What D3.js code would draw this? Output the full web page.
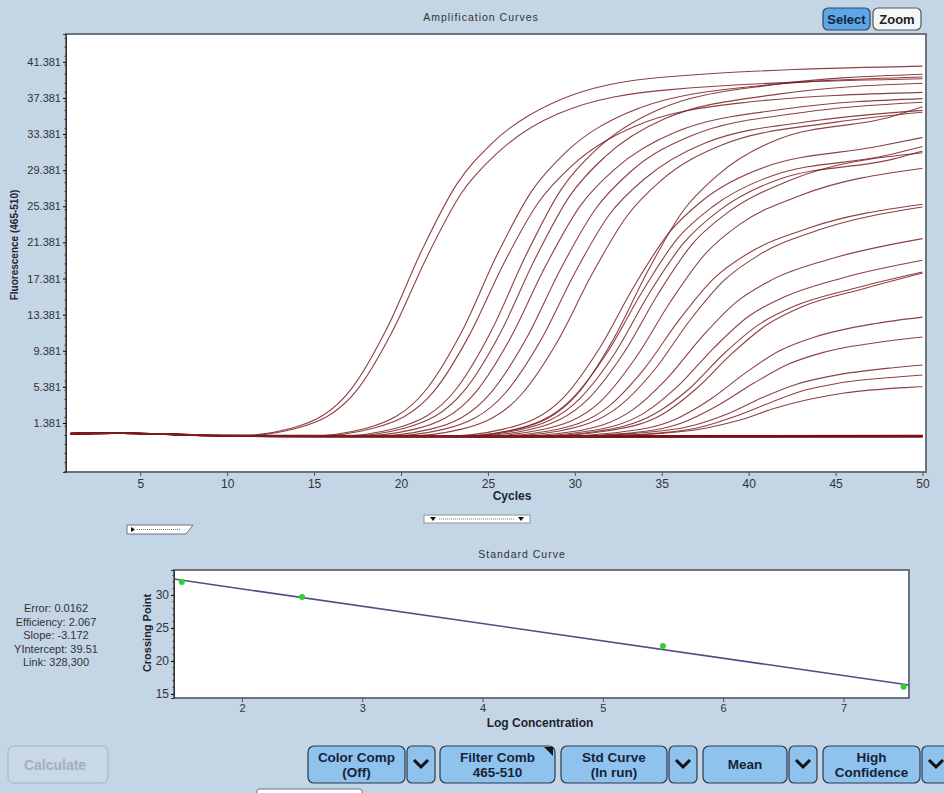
<!DOCTYPE html>
<html>
<head>
<meta charset="utf-8">
<script src="https://cdn.jsdelivr.net/npm/d3@7"></script>
<style>
body { margin: 0; background: #c4d5e6; }
svg { display: block; font-family: "Liberation Sans", Arial, sans-serif; }
</style>
</head>
<body>
<svg width="944" height="793"></svg>
<script>
// ---- data ----
const cycleTicks = [5, 10, 15, 20, 25, 30, 35, 40, 45, 50]
const fluorTicks = [1.381, 5.381, 9.381, 13.381, 17.381, 21.381, 25.381, 29.381, 33.381, 37.381, 41.381]

// shared start of every trace (cycles 1-9)
const earlyBaseline = [[1, 0.2], [4, 0.25], [9, 0.0]]

// amplified traces, [cycle, fluorescence]
const ampCurves = [
    [[10.2, -0.1], [13.7, 0.8], [17.2, 5.3], [19.2, 11.9], [21.2, 20.5], [23.2, 27.8], [25.2, 32.3], [28.7, 36.8], [35.2, 39.7], [50, 40.9]],
    [[10.5, -0.1], [14, 0.8], [17.5, 5.1], [19.5, 11.5], [21.5, 19.8], [23.5, 26.9], [25.5, 31.2], [29, 35.6], [35.5, 38.3], [50, 39.5]],
    [[14.5, -0.1], [18, 0.8], [21.5, 5.2], [23.5, 11.5], [25.5, 19.9], [27.5, 27.0], [29.5, 31.4], [33, 35.7], [39.5, 38.5], [50, 39.7]],
    [[14.9, -0.1], [18.4, 0.8], [21.9, 4.9], [23.9, 11.0], [25.9, 19.0], [27.9, 25.8], [29.9, 30.0], [33.4, 34.2], [39.9, 36.9], [50, 38.0]],
    [[16.2, -0.1], [19.7, 0.8], [23.2, 5.2], [25.2, 11.6], [27.2, 20.0], [29.2, 27.2], [31.2, 31.6], [34.7, 36.0], [41.2, 38.8], [50, 40.0]],
    [[16.7, -0.1], [20.2, 0.8], [23.7, 5.1], [25.7, 11.3], [27.7, 19.5], [29.7, 26.5], [31.7, 30.8], [35.2, 35.1], [41.7, 37.8], [50, 39.0]],
    [[17.3, -0.1], [20.8, 0.7], [24.3, 4.8], [26.3, 10.8], [28.3, 18.7], [30.3, 25.4], [32.3, 29.5], [35.8, 33.6], [42.3, 36.2], [50, 37.3]],
    [[18.2, -0.1], [21.7, 0.7], [25.2, 4.8], [27.2, 10.7], [29.2, 18.5], [31.2, 25.1], [33.2, 29.2], [36.7, 33.2], [43.2, 35.8], [50, 36.9]],
    [[19, -0.1], [22.5, 0.7], [26, 4.7], [28, 10.4], [30, 18.0], [32, 24.5], [34, 28.4], [37.5, 32.4], [44, 34.9], [50, 36.0]],
    [[20, -0.1], [23.5, 0.7], [27, 4.7], [29, 10.4], [31, 17.9], [33, 24.3], [35, 28.3], [38.5, 32.2], [45, 34.7], [50, 35.8]],
    [[23.2, -0.1], [26.7, 0.7], [30.2, 4.7], [32.2, 10.6], [34.2, 18.2], [36.2, 24.8], [38.2, 28.8], [41.7, 32.8], [48.2, 35.3], [50, 36.4]],
    [[22.4, -0.1], [25.9, 0.7], [29.4, 4.3], [31.4, 9.6], [33.4, 16.5], [35.4, 22.4], [37.4, 26.1], [40.9, 29.7], [47.4, 32.0], [50, 33.0]],
    [[22.9, -0.1], [26.4, 0.6], [29.9, 4.2], [31.9, 9.3], [33.9, 16.0], [35.9, 21.8], [37.9, 25.3], [41.4, 28.8], [47.9, 31.0], [50, 32.0]],
    [[23.3, -0.1], [26.8, 0.6], [30.3, 4.1], [32.3, 9.1], [34.3, 15.8], [36.3, 21.4], [38.3, 24.9], [41.8, 28.4], [48.3, 30.6], [50, 31.5]],
    [[23.8, -0.1], [27.3, 0.6], [30.8, 4.1], [32.8, 9.1], [34.8, 15.7], [36.8, 21.3], [38.8, 24.7], [42.3, 28.2], [50, 31.3]],
    [[24.5, -0.1], [28, 0.6], [31.5, 3.8], [33.5, 8.6], [35.5, 14.8], [37.5, 20.1], [39.5, 23.4], [43, 26.6], [50, 29.6]],
    [[25, -0.1], [28.5, 0.5], [32, 3.3], [34, 7.4], [36, 12.8], [38, 17.4], [40, 20.2], [43.5, 23.0], [50, 25.6]],
    [[25.6, -0.1], [29.1, 0.5], [32.6, 3.3], [34.6, 7.3], [36.6, 12.7], [38.6, 17.2], [40.6, 20.0], [44.1, 22.8], [50, 25.3]],
    [[26.3, -0.1], [29.8, 0.4], [33.3, 2.8], [35.3, 6.3], [37.3, 10.9], [39.3, 14.8], [41.3, 17.2], [44.8, 19.6], [50, 21.8]],
    [[27, -0.1], [30.5, 0.4], [34, 2.5], [36, 5.6], [38, 9.7], [40, 13.2], [42, 15.3], [45.5, 17.5], [50, 19.4]],
    [[27.6, -0.1], [31.1, 0.4], [34.6, 2.4], [36.6, 5.2], [38.6, 9.1], [40.6, 12.3], [42.6, 14.3], [46.1, 16.3], [50, 18.1]],
    [[28, -0.1], [31.5, 0.4], [35, 2.3], [37, 5.2], [39, 9.0], [41, 12.2], [43, 14.2], [46.5, 16.2], [50, 18.0]],
    [[28.8, -0.1], [32.3, 0.3], [35.8, 1.8], [37.8, 4.0], [39.8, 6.9], [41.8, 9.4], [43.8, 10.9], [47.3, 12.4], [50, 13.1]],
    [[29.3, -0.1], [32.8, 0.2], [36.3, 1.5], [38.3, 3.4], [40.3, 5.8], [42.3, 7.9], [44.3, 9.2], [47.8, 10.4], [50, 10.9]],
    [[29.8, -0.1], [33.3, 0.2], [36.8, 1.1], [38.8, 2.4], [40.8, 4.2], [42.8, 5.7], [44.8, 6.6], [48.3, 7.5], [50, 7.8]],
    [[30.2, -0.1], [33.7, 0.1], [37.2, 0.9], [39.2, 2.1], [41.2, 3.6], [43.2, 5.0], [45.2, 5.8], [48.7, 6.5], [50, 6.7]],
    [[30.5, -0.1], [34, 0.1], [37.5, 0.8], [39.5, 1.7], [41.5, 3.0], [43.5, 4.0], [45.5, 4.7], [49, 5.3], [50, 5.4]]
]

// traces that never amplify
const flatCurves = [
    [[15, -0.05], [30, -0.12], [50, -0.05]],
    [[15, -0.1], [30, -0.15], [50, -0.1]],
    [[15, -0.15], [30, -0.1], [50, -0.12]],
    [[15, -0.08], [30, -0.18], [50, -0.15]],
    [[15, -0.12], [30, -0.08], [50, -0.02]],
    [[15, -0.02], [30, -0.1], [50, -0.08]]
]

// standard curve
const logConc = [1.5, 2.5, 5.5, 7.5]
const crossingPoint = [32.0, 29.7, 22.3, 16.1]
const logTicks = [2, 3, 4, 5, 6, 7]
const cpTicks = [15, 20, 25, 30]
const statLines = ["Error: 0.0162", "Efficiency: 2.067", "Slope: -3.172", "YIntercept: 39.51", "Link: 328,300"]

const svg = d3.select("svg")

// ---- amplification curves ----
const amp = { left: 66, right: 926, top: 34, bottom: 472 }

const x = d3.scaleLinear().domain([0.73, 50.2]).range([amp.left, amp.right])
const y = d3.scaleLinear().domain([-4.05, 44.46]).range([amp.bottom, amp.top])

svg.append("text")
    .attr("x", 481).attr("y", 21)
    .attr("text-anchor", "middle")
    .attr("font-size", 10.5).attr("letter-spacing", 1)
    .attr("fill", "#333")
    .text("Amplification Curves")

svg.append("rect")
    .attr("x", amp.left).attr("y", amp.top)
    .attr("width", amp.right - amp.left).attr("height", amp.bottom - amp.top)
    .attr("fill", "#fff")

const line = d3.line()
    .x(d => x(d[0]))
    .y(d => y(d[1]))
    .curve(d3.curveMonotoneX)

const traces = svg.append("g")
flatCurves.forEach(c => {
    traces.append("path")
        .attr("d", line(earlyBaseline.concat(c)))
        .attr("fill", "none")
        .attr("stroke", "#7d0c0c")
        .attr("stroke-width", 1.6)
})
ampCurves.forEach(c => {
    traces.append("path")
        .attr("d", line(earlyBaseline.concat(c)))
        .attr("fill", "none")
        .attr("stroke", "#7a1f22")
        .attr("stroke-width", 1.1)
        .attr("stroke-opacity", 0.85)
})

svg.append("rect")
    .attr("x", amp.left).attr("y", amp.top)
    .attr("width", amp.right - amp.left).attr("height", amp.bottom - amp.top)
    .attr("fill", "none").attr("stroke", "#6d737a").attr("stroke-width", 2)

const yAxis = svg.append("g")
    .attr("transform", `translate(${amp.left},0)`)
    .call(d3.axisLeft(y).tickValues(fluorTicks).tickFormat(d3.format(".3f")).tickSize(3).tickPadding(2))
yAxis.select(".domain").attr("stroke", "#333")
yAxis.selectAll("text").attr("font-size", 11).attr("fill", "#333")

// minor ticks on the fluorescence axis
svg.append("g")
    .selectAll("line")
    .data(d3.range(-4, 44.5, 1))
    .join("line")
    .attr("x1", amp.left - 1.5).attr("x2", amp.left)
    .attr("y1", d => y(d)).attr("y2", d => y(d))
    .attr("stroke", "#333")

const xAxis = svg.append("g")
    .attr("transform", `translate(0,${amp.bottom})`)
    .call(d3.axisBottom(x).tickValues(cycleTicks).tickSize(4).tickPadding(3))
xAxis.select(".domain").remove()
xAxis.selectAll("line").attr("stroke", "#555")
xAxis.selectAll("text").attr("font-size", 12).attr("fill", "#333")

svg.append("text")
    .attr("x", 512).attr("y", 500)
    .attr("text-anchor", "middle")
    .attr("font-size", 12).attr("font-weight", "bold").attr("fill", "#1e2430")
    .text("Cycles")

svg.append("text")
    .attr("transform", "translate(18,245) rotate(-90)")
    .attr("text-anchor", "middle")
    .attr("font-size", 10).attr("font-weight", "bold").attr("fill", "#1e2430")
    .text("Fluorescence (465-510)")

// Select / Zoom buttons
svg.append("rect").attr("x", 823).attr("y", 8).attr("width", 47).attr("height", 22).attr("rx", 5)
    .attr("fill", "#5ea6e6").attr("stroke", "#2c4660").attr("stroke-width", 1.2)
svg.append("text").attr("x", 846.5).attr("y", 24).attr("text-anchor", "middle")
    .attr("font-size", 13).attr("font-weight", "bold").attr("fill", "#13243a").text("Select")
svg.append("rect").attr("x", 873).attr("y", 8).attr("width", 48).attr("height", 22).attr("rx", 5)
    .attr("fill", "#f4f7fa").attr("stroke", "#555").attr("stroke-width", 1.2)
svg.append("text").attr("x", 897).attr("y", 24).attr("text-anchor", "middle")
    .attr("font-size", 13).attr("font-weight", "bold").attr("fill", "#222").text("Zoom")

// scroll widgets under the chart
svg.append("path").attr("d", "M127,525 H193 L186,534 H127 Z")
    .attr("fill", "#fff").attr("stroke", "#6b7580")
svg.append("path").attr("d", "M131,527 L135,529.5 L131,532 Z").attr("fill", "#111")
svg.append("line").attr("x1", 137).attr("x2", 181).attr("y1", 529.5).attr("y2", 529.5)
    .attr("stroke", "#777").attr("stroke-dasharray", "1,1")

svg.append("rect").attr("x", 424).attr("y", 515).attr("width", 106).attr("height", 8)
    .attr("fill", "#fff").attr("stroke", "#8a949e")
svg.append("path").attr("d", "M430,517 L436,517 L433,521 Z").attr("fill", "#111")
svg.append("path").attr("d", "M518,517 L524,517 L521,521 Z").attr("fill", "#111")
svg.append("line").attr("x1", 439).attr("x2", 515).attr("y1", 519).attr("y2", 519)
    .attr("stroke", "#777").attr("stroke-dasharray", "1,1")

// ---- standard curve ----
const sc = { left: 174, right: 909, top: 570, bottom: 698 }
const xs = d3.scaleLinear().domain([1.435, 7.545]).range([sc.left, sc.right])
const ys = d3.scaleLinear().domain([14.4, 33.8]).range([sc.bottom, sc.top])

svg.append("text")
    .attr("x", 522).attr("y", 558)
    .attr("text-anchor", "middle")
    .attr("font-size", 10.5).attr("letter-spacing", 1).attr("fill", "#333")
    .text("Standard Curve")

svg.append("rect")
    .attr("x", sc.left).attr("y", sc.top)
    .attr("width", sc.right - sc.left).attr("height", sc.bottom - sc.top)
    .attr("fill", "#fff").attr("stroke", "#6d737a").attr("stroke-width", 2)

// least-squares fit through the standards
const pts = logConc.map((v, i) => [v, crossingPoint[i]])
const mx = d3.mean(logConc), my = d3.mean(crossingPoint)
const slope = d3.sum(pts, p => (p[0] - mx) * (p[1] - my)) / d3.sum(pts, p => (p[0] - mx) ** 2)
const fit = xs.domain().map(v => [v, my + slope * (v - mx)])

svg.append("path")
    .attr("d", d3.line().x(d => xs(d[0])).y(d => ys(d[1]))(fit))
    .attr("stroke", "#4b4f86").attr("stroke-width", 1.5).attr("fill", "none")

svg.append("g")
    .selectAll("circle")
    .data(pts)
    .join("circle")
    .attr("cx", d => xs(d[0])).attr("cy", d => ys(d[1]))
    .attr("r", 3).attr("fill", "#2fd12f")

const ysAxis = svg.append("g")
    .attr("transform", `translate(${sc.left},0)`)
    .call(d3.axisLeft(ys).tickValues(cpTicks).tickSize(3).tickPadding(2))
ysAxis.select(".domain").attr("stroke", "#333")
ysAxis.selectAll("text").attr("font-size", 12).attr("fill", "#333")

svg.append("g")
    .selectAll("line")
    .data(d3.range(15, 34, 1))
    .join("line")
    .attr("x1", sc.left - 1.5).attr("x2", sc.left)
    .attr("y1", d => ys(d)).attr("y2", d => ys(d))
    .attr("stroke", "#333")

const xsAxis = svg.append("g")
    .attr("transform", `translate(0,${sc.bottom})`)
    .call(d3.axisBottom(xs).tickValues(logTicks).tickFormat(d3.format("d")).tickSize(4).tickPadding(2))
xsAxis.select(".domain").remove()
xsAxis.selectAll("line").attr("stroke", "#555")
xsAxis.selectAll("text").attr("font-size", 11).attr("fill", "#333")

svg.append("text")
    .attr("x", 540).attr("y", 727)
    .attr("text-anchor", "middle")
    .attr("font-size", 12).attr("font-weight", "bold").attr("fill", "#1e2430")
    .text("Log Concentration")

svg.append("text")
    .attr("transform", "translate(151,633) rotate(-90)")
    .attr("text-anchor", "middle")
    .attr("font-size", 11).attr("font-weight", "bold").attr("fill", "#1e2430")
    .text("Crossing Point")

svg.append("g")
    .selectAll("text")
    .data(statLines)
    .join("text")
    .attr("x", 56).attr("y", (d, i) => 612 + i * 13.5)
    .attr("text-anchor", "middle")
    .attr("font-size", 11).attr("fill", "#333")
    .text(d => d)

// ---- bottom button bar ----
svg.append("rect").attr("x", 8).attr("y", 746).attr("width", 100).attr("height", 37).attr("rx", 6)
    .attr("fill", "#c8d8e8").attr("stroke", "#a4b3c3")
svg.append("text").attr("x", 55).attr("y", 770).attr("text-anchor", "middle")
    .attr("font-size", 14).attr("font-weight", "bold").attr("fill", "#a3afbb").text("Calculate")

const buttons = [
    { x: 308, w: 97, lines: ["Color Comp", "(Off)"], drop: true },
    { x: 440, w: 115, lines: ["Filter Comb", "465-510"], corner: true },
    { x: 561, w: 106, lines: ["Std Curve", "(In run)"], drop: true },
    { x: 703, w: 84, lines: ["Mean"], drop: true },
    { x: 823, w: 97, lines: ["High", "Confidence"], drop: true }
]

const bar = svg.append("g")
buttons.forEach(b => {
    bar.append("rect").attr("x", b.x).attr("y", 746).attr("width", b.w).attr("height", 37).attr("rx", 6)
        .attr("fill", "#8fc2ec").attr("stroke", "#2b3a4c").attr("stroke-width", 1.2)
    const t = bar.append("text").attr("text-anchor", "middle")
        .attr("font-size", 13.5).attr("font-weight", "bold").attr("fill", "#15233a")
    b.lines.forEach((s, i) => {
        t.append("tspan").attr("x", b.x + b.w / 2)
            .attr("y", b.lines.length === 1 ? 769 : 762 + i * 15)
            .text(s)
    })
    if (b.corner) {
        bar.append("path").attr("d", `M${b.x + b.w - 11},747 H${b.x + b.w - 2} V756 Z`).attr("fill", "#111")
    }
    if (b.drop) {
        const dx = b.x + b.w + 2
        bar.append("rect").attr("x", dx).attr("y", 746).attr("width", 28).attr("height", 37).attr("rx", 5)
            .attr("fill", "#8fc2ec").attr("stroke", "#2b3a4c").attr("stroke-width", 1.2)
        bar.append("path").attr("d", `M${dx + 7},760 L${dx + 14},767 L${dx + 21},760`)
            .attr("fill", "none").attr("stroke", "#111").attr("stroke-width", 3)
    }
})

svg.append("rect").attr("x", 257).attr("y", 789).attr("width", 105).attr("height", 10).attr("rx", 2)
    .attr("fill", "#fff").attr("stroke", "#6b7580")
</script>
</body>
</html>
